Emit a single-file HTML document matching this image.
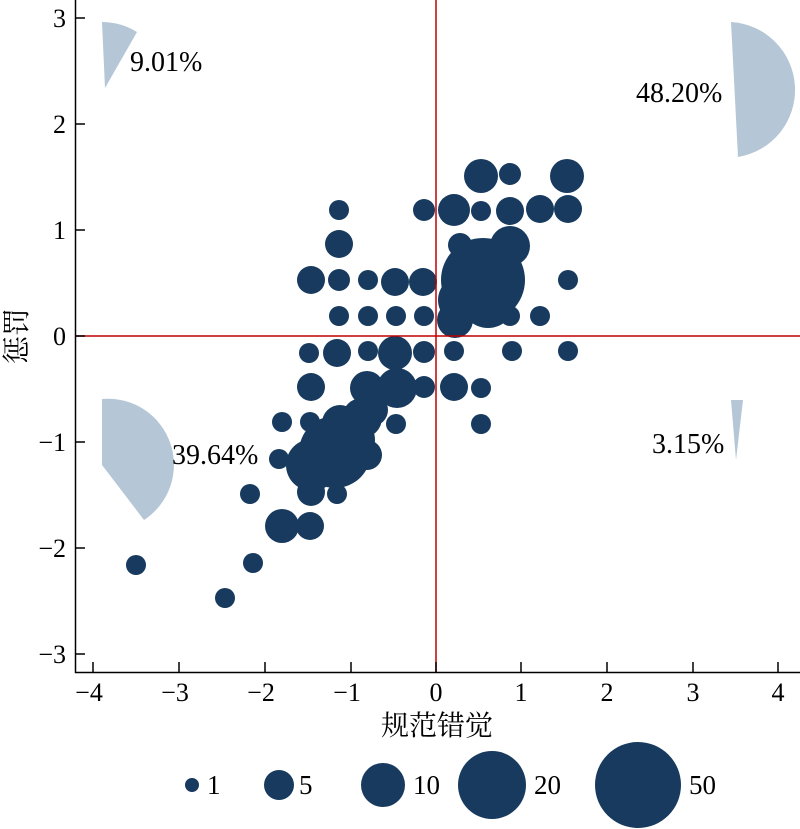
<!DOCTYPE html>
<html><head><meta charset="utf-8"><style>
body{margin:0;background:#fff;}
svg{display:block;font-family:"Liberation Serif","Noto Serif CJK SC",serif;}
</style></head><body>
<svg width="800" height="829" viewBox="0 0 800 829" xmlns="http://www.w3.org/2000/svg">
<g fill="#b5c6d6">
<path d="M102,22 A66,66 0 0 1 137,32 L105,88 Z"/>
<path d="M731,22 A68,68 0 0 1 738,157 L734.5,89.5 Z"/>
<path d="M102,399 A66,66 0 0 1 144,520 L102,465 Z"/>
<path d="M731,400 L743,400 L736,460 Z"/>
</g>
<g font-size="28" fill="#000">
<text x="130" y="71">9.01%</text>
<text x="636" y="102">48.20%</text>
<text x="172" y="464">39.64%</text>
<text x="652" y="453">3.15%</text>
</g>
<g fill="#173a5e">
<circle cx="481" cy="176" r="17"/><circle cx="510" cy="174" r="11"/><circle cx="567" cy="176" r="17"/>
<circle cx="339" cy="210" r="10"/><circle cx="424" cy="210" r="11"/><circle cx="454" cy="210" r="16"/><circle cx="481" cy="211" r="10"/><circle cx="510" cy="211" r="14"/><circle cx="540" cy="209" r="14"/><circle cx="568" cy="209" r="14"/>
<circle cx="339" cy="244" r="14"/>
<circle cx="483" cy="280" r="42"/><circle cx="510" cy="246" r="20"/><circle cx="462" cy="300" r="24"/><circle cx="455" cy="320" r="18"/><circle cx="460" cy="245" r="12"/><circle cx="488" cy="300" r="28"/>
<circle cx="311" cy="280" r="14"/><circle cx="339" cy="280" r="11"/><circle cx="368" cy="280" r="10"/><circle cx="395" cy="282" r="14"/><circle cx="423" cy="282" r="14"/><circle cx="568" cy="280" r="10"/>
<circle cx="339" cy="316" r="10"/><circle cx="368" cy="316" r="10"/><circle cx="396" cy="316" r="10"/><circle cx="424" cy="316" r="10"/><circle cx="510" cy="316" r="10"/><circle cx="540" cy="316" r="10"/>
<circle cx="309" cy="353" r="10"/><circle cx="337" cy="353" r="14"/><circle cx="368" cy="351" r="10"/><circle cx="395" cy="353" r="17"/><circle cx="424" cy="352" r="11"/><circle cx="454" cy="351" r="10"/><circle cx="512" cy="351" r="10"/><circle cx="568" cy="351" r="10"/>
<circle cx="311" cy="387" r="14"/><circle cx="367" cy="388" r="17"/><circle cx="397" cy="388" r="20"/><circle cx="424" cy="387" r="11"/><circle cx="454" cy="387" r="14"/><circle cx="481" cy="388" r="10"/>
<circle cx="282" cy="422" r="10"/><circle cx="310" cy="422" r="10"/><circle cx="396" cy="424" r="10"/><circle cx="481" cy="424" r="10"/><circle cx="340" cy="423" r="18"/><circle cx="362" cy="418" r="20"/><circle cx="372" cy="410" r="16"/>
<circle cx="279" cy="459" r="10"/><circle cx="335" cy="452" r="36"/><circle cx="312" cy="465" r="26"/><circle cx="367" cy="455" r="15"/><circle cx="350" cy="440" r="25"/>
<circle cx="250" cy="494" r="10"/><circle cx="311" cy="492" r="14"/><circle cx="337" cy="494" r="10"/>
<circle cx="282" cy="526" r="17"/><circle cx="310" cy="526" r="14"/>
<circle cx="253" cy="563" r="10"/><circle cx="136" cy="565" r="10"/><circle cx="225" cy="598" r="10"/>
</g>
<g stroke="#c00000" stroke-width="1.5">
<line x1="436" y1="0" x2="436" y2="672"/>
<line x1="75" y1="336" x2="800" y2="336"/>
</g>
<g stroke="#000" stroke-width="1.5" fill="none">
<path d="M75.5,0 V672.5 H800"/>
<path d="M93,672 v-10 M179,672 v-10 M265,672 v-10 M351,672 v-10 M436,672 v-10 M521,672 v-10 M607,672 v-10 M693,672 v-10 M778,672 v-10"/>
<path d="M75,18 h10 M75,124 h10 M75,230 h10 M75,336 h10 M75,442 h10 M75,548 h10 M75,654 h10"/>
</g>
<g font-size="26" fill="#000" text-anchor="middle">
<text x="89" y="701">−4</text><text x="175" y="701">−3</text><text x="261" y="701">−2</text><text x="347" y="701">−1</text><text x="436" y="701">0</text><text x="521" y="701">1</text><text x="607" y="701">2</text><text x="693" y="701">3</text><text x="778" y="701">4</text>
</g>
<g font-size="26" fill="#000" text-anchor="end">
<text x="66" y="27">3</text><text x="66" y="133">2</text><text x="66" y="239">1</text><text x="66" y="345">0</text><text x="66" y="451">−1</text><text x="66" y="557">−2</text><text x="66" y="663">−3</text>
</g>
<text x="437" y="735" font-size="28" text-anchor="middle">规范错觉</text>
<text transform="translate(26,336) rotate(-90)" font-size="28" text-anchor="middle">惩罚</text>
<g fill="#173a5e">
<circle cx="192" cy="785" r="7"/><circle cx="279" cy="785" r="15"/><circle cx="383" cy="785" r="22"/><circle cx="492" cy="785" r="34"/><circle cx="638" cy="785" r="43"/>
</g>
<g font-size="27" fill="#000">
<text x="207" y="794">1</text><text x="299" y="794">5</text><text x="413" y="794">10</text><text x="534" y="794">20</text><text x="689" y="794">50</text>
</g>
</svg>
</body></html>
